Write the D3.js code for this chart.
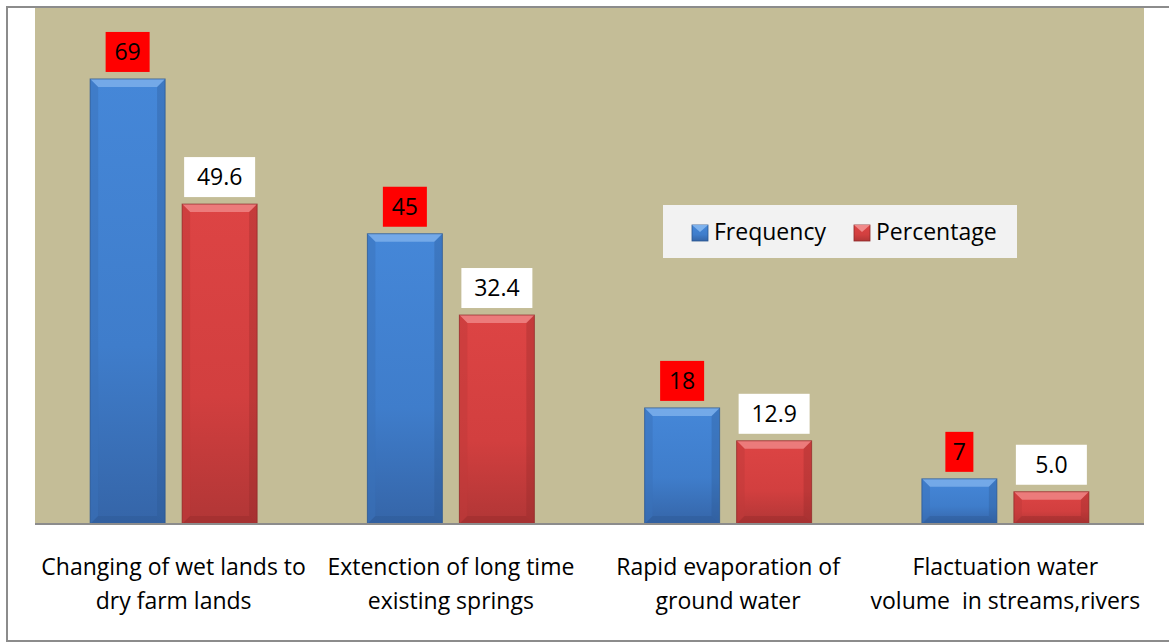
<!DOCTYPE html>
<html><head><meta charset="utf-8">
<script src="https://cdn.jsdelivr.net/npm/d3@7"></script>
<style>body{margin:0;background:#fff;}svg{display:block;font-family:"Open Sans",sans-serif;}</style>
</head><body>
<script>
const categories = [["Changing of wet lands to","dry farm lands"],["Extenction of long time","existing springs"],["Rapid evaporation of","ground water"],["Flactuation water","volume  in streams,rivers"]];
const frequency = [69, 45, 18, 7];
const percentage = [49.6, 32.4, 12.9, 5.0];
const seriesNames = ["Frequency", "Percentage"];

const W = 1169, H = 643;
const FS = 23;
const svg = d3.select("body").append("svg").attr("width", W).attr("height", H);
const defs = svg.append("defs");

function grad(id, c1, c2, c3) {
  const g = defs.append("linearGradient").attr("id", id).attr("x1", 0).attr("x2", 0).attr("y1", 0).attr("y2", 1);
  g.append("stop").attr("offset", "0%").attr("stop-color", c1);
  g.append("stop").attr("offset", "60%").attr("stop-color", c2);
  g.append("stop").attr("offset", "100%").attr("stop-color", c3);
}
grad("gBlue", "#4587D8", "#3F7DCB", "#3565A8");
grad("gRed", "#DD4444", "#D23F3F", "#B13636");

// outer border
svg.append("rect").attr("x", 7).attr("y", 7).attr("width", W + 10).attr("height", 634)
  .attr("fill", "#fff").attr("stroke", "#8c8c8c").attr("stroke-width", 2);

const plot = {x0: 35, x1: 1144, y0: 8, y1: 524};
svg.append("rect").attr("x", plot.x0).attr("y", plot.y0).attr("width", plot.x1 - plot.x0).attr("height", plot.y1 - plot.y0).attr("fill", "#C4BD97");

const x = d3.scaleBand().domain(d3.range(categories.length)).range([plot.x0, plot.x1]);
const y = d3.scaleLinear().domain([0, 80]).range([plot.y1, plot.y0]);
const bw = 75, gap = 17;

const series = [
  {name: seriesNames[0], values: frequency, fill: "url(#gBlue)", light: "#7FB2EC", dark: "#2A5590", side: "#3A72BA", labelBg: "#FF0000", fmt: d3.format("d"), offset: -(bw + gap) / 2},
  {name: seriesNames[1], values: percentage, fill: "url(#gRed)", light: "#F08A8A", dark: "#8E2828", side: "#BF3A3A", labelBg: "#FFFFFF", fmt: d3.format(".1f"), offset: (bw + gap) / 2}
];

function drawBar(g, x0, yt, w, h, s) {
  const b = Math.min(8, h / 2);
  g.append("rect").attr("x", x0).attr("y", yt).attr("width", w).attr("height", h).attr("fill", s.fill);
  g.append("path").attr("d", `M${x0},${yt}L${x0 + w},${yt}L${x0 + w - b},${yt + b}L${x0 + b},${yt + b}Z`).attr("fill", s.light).attr("opacity", 0.8);
  g.append("path").attr("d", `M${x0},${yt}L${x0 + b},${yt + b}L${x0 + b},${yt + h - b}L${x0},${yt + h}Z`).attr("fill", s.side).attr("opacity", 0.5);
  g.append("path").attr("d", `M${x0 + w},${yt}L${x0 + w - b},${yt + b}L${x0 + w - b},${yt + h - b}L${x0 + w},${yt + h}Z`).attr("fill", s.dark).attr("opacity", 0.3);
  g.append("path").attr("d", `M${x0},${yt + h}L${x0 + b},${yt + h - b}L${x0 + w - b},${yt + h - b}L${x0 + w},${yt + h}Z`).attr("fill", s.dark).attr("opacity", 0.35);
  g.append("rect").attr("x", x0).attr("y", yt).attr("width", w).attr("height", h).attr("fill", "none").attr("stroke", s.dark).attr("stroke-width", 1).attr("opacity", 0.7);
}

const barsG = svg.append("g");
series.forEach(s => {
  s.values.forEach((v, i) => {
    const cx = x(i) + x.bandwidth() / 2 + s.offset;
    const yt = y(v);
    drawBar(barsG, cx - bw / 2, yt, bw, y(0) - yt, s);
    const txt = s.fmt(v);
    const lw = txt.length <= 1 ? 28 : (txt.length === 2 ? 44 : 71);
    barsG.append("rect").attr("x", cx - lw / 2).attr("y", yt - 47).attr("width", lw).attr("height", 40).attr("fill", s.labelBg);
    barsG.append("text").attr("x", cx).attr("y", yt - 19).attr("text-anchor", "middle").attr("font-size", FS).attr("fill", "#000").text(txt);
  });
});

// axis line
svg.append("line").attr("x1", plot.x0).attr("x2", plot.x1).attr("y1", plot.y1).attr("y2", plot.y1).attr("stroke", "#8c8c8c").attr("stroke-width", 2);

// category labels
categories.forEach((lines, i) => {
  const t = svg.append("text").attr("text-anchor", "middle").attr("font-size", FS).attr("fill", "#000").attr("xml:space", "preserve");
  lines.forEach((l, j) => {
    t.append("tspan").attr("x", x(i) + x.bandwidth() / 2).attr("y", 575 + j * 34).text(l);
  });
});

// legend
const lg = svg.append("g");
lg.append("rect").attr("x", 663).attr("y", 205).attr("width", 354).attr("height", 53).attr("fill", "#F2F2F2");
const legX = [692, 854];
series.forEach((s, k) => {
  const lx = legX[k], ly = 225;
  const g = lg.append("g");
  g.append("rect").attr("x", lx).attr("y", ly).attr("width", 16).attr("height", 16).attr("fill", s.fill).attr("stroke", s.dark).attr("stroke-width", 0.8);
  g.append("path").attr("d", `M${lx},${ly}L${lx + 16},${ly}L${lx + 8},${ly + 7}Z`).attr("fill", s.light);
  lg.append("text").attr("x", lx + 22).attr("y", ly + 15).attr("font-size", FS).attr("fill", "#000").text(s.name);
});
</script>
</body></html>
